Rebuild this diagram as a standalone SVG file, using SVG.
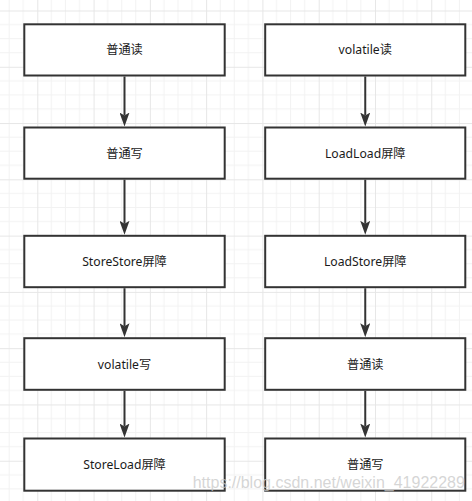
<svg xmlns="http://www.w3.org/2000/svg" width="472" height="501" viewBox="0 0 472 501">
<defs>
<pattern id="grid" patternUnits="userSpaceOnUse" x="37.3" y="10.5" width="56.28" height="56.28">
<path d="M14.07,0V56.28M28.14,0V56.28M42.21,0V56.28M0,14.07H56.28M0,28.14H56.28M0,42.21H56.28" stroke="#f2f2f2" stroke-width="1" fill="none"/>
<path d="M0.5,0V56.28M0,0.5H56.28" stroke="#e6e6e6" stroke-width="1" fill="none"/>
</pattern>
<marker id="arr" markerUnits="userSpaceOnUse" viewBox="0 0 14 10" refX="3" refY="5" markerWidth="14" markerHeight="10" orient="auto">
<path d="M0,0L14,5L0,10L3,5Z" fill="#333333"/>
</marker>
<style>
.box{fill:#ffffff;stroke:#333333;stroke-width:2}
.lbl{font-family:"Noto Sans","Noto Sans CJK SC",sans-serif;font-size:12.2px;fill:#1a1a1a;text-anchor:middle}
.edge{fill:none;stroke:#333333;stroke-width:2;marker-end:url(#arr)}
.wm{font-family:"Liberation Sans",Arial,sans-serif;font-size:16px;fill:#c8c8c8;fill-opacity:0.75}
</style>
</defs>
<rect width="472" height="501" fill="#ffffff"/>
<rect width="472" height="501" fill="url(#grid)"/>

<g id="connectors">
<path class="edge" d="M124.5,76.5V115.5"/>
<path class="edge" d="M124.5,179.7V223.8"/>
<path class="edge" d="M124.5,288.2V326.2"/>
<path class="edge" d="M124.5,390.8V426.5"/>
<path class="edge" d="M365.25,76.5V115.5"/>
<path class="edge" d="M365.25,179.7V223.8"/>
<path class="edge" d="M365.25,288.2V326.2"/>
<path class="edge" d="M365.25,390.8V426.5"/>
</g>

<g id="L1"><rect class="box" x="24.3" y="24.3" width="200.4" height="51.2"/><text class="lbl" x="124.5" y="54.4">普通读</text></g>
<g id="L2"><rect class="box" x="24.3" y="127.5" width="200.4" height="51.2"/><text class="lbl" x="124.5" y="157.6">普通写</text></g>
<g id="L3"><rect class="box" x="24.3" y="235.8" width="200.4" height="51.4"/><text class="lbl" x="124.5" y="266">StoreStore屏障</text></g>
<g id="L4"><rect class="box" x="24.3" y="338.2" width="200.4" height="51.6"/><text class="lbl" x="124.5" y="368.5">volatile写</text></g>
<g id="L5"><rect class="box" x="24.3" y="438.5" width="200.4" height="52.2"/><text class="lbl" x="124.5" y="469.1">StoreLoad屏障</text></g>

<g id="R1"><rect class="box" x="265.2" y="24.3" width="200.1" height="51.2"/><text class="lbl" x="365.25" y="54.4">volatile读</text></g>
<g id="R2"><rect class="box" x="265.2" y="127.5" width="200.1" height="51.2"/><text class="lbl" x="365.25" y="157.6">LoadLoad屏障</text></g>
<g id="R3"><rect class="box" x="265.2" y="235.8" width="200.1" height="51.4"/><text class="lbl" x="365.25" y="266">LoadStore屏障</text></g>
<g id="R4"><rect class="box" x="265.2" y="338.2" width="200.1" height="51.6"/><text class="lbl" x="365.25" y="368.5">普通读</text></g>
<g id="R5"><rect class="box" x="265.2" y="438.5" width="200.1" height="52.2"/><text class="lbl" x="365.25" y="469.1">普通写</text></g>

<text class="wm" x="192.7" y="487.5">https://blog.csdn.net/weixin_41922289</text>
</svg>
